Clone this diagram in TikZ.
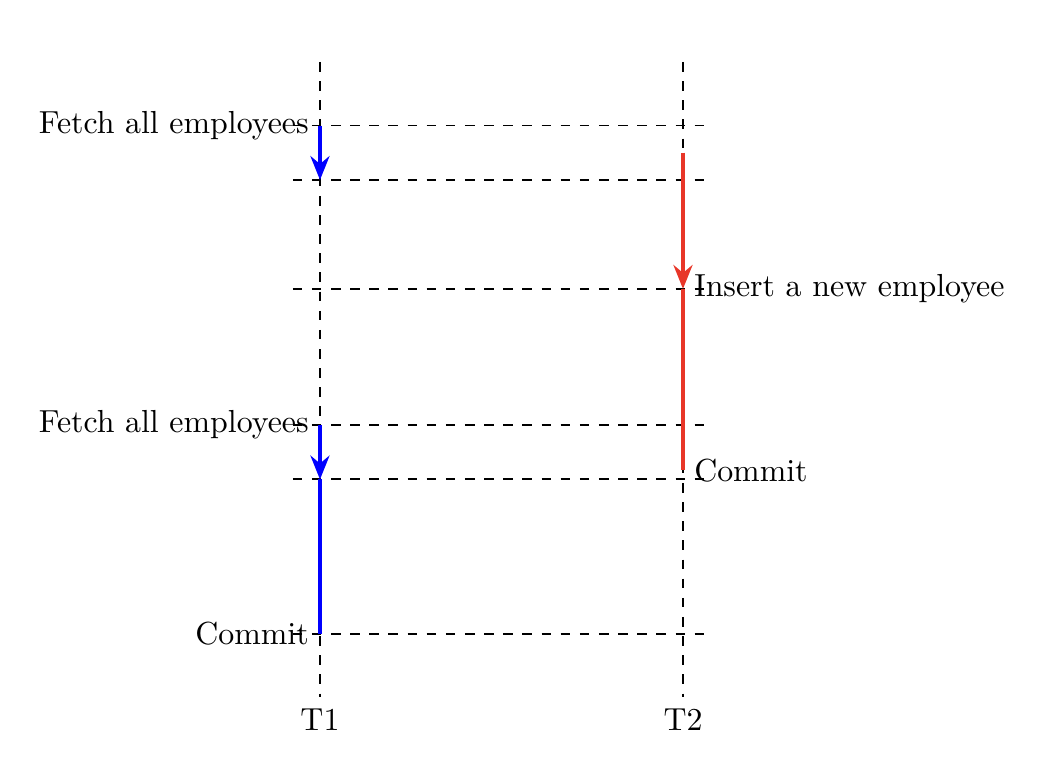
\documentclass[tikz,border=0pt]{standalone}
\usetikzlibrary{arrows.meta}
\definecolor{myred}{RGB}{232,54,40}
\begin{document}
\begin{tikzpicture}[
  grid/.style={dashed, line width=0.6pt},
  blueflow/.style={blue, line width=1pt},
  redflow/.style={myred, line width=1pt},
  tip/.style={-{Stealth[length=7.5pt,width=6pt,inset=2.5pt]}},
  lbl/.style={inner sep=3.33pt}
]
\useasboundingbox (-3.526,-0.937) rectangle (7.978,7.683);
% lifelines
\coordinate (t1top) at (0,7);
\coordinate (t1bot) at (0,0);
\coordinate (t2top) at (4,7);
\coordinate (t2bot) at (4,0);
\draw[grid] (t1top) -- (t1bot);
\draw[grid] (t2top) -- (t2bot);
\node[anchor=north, lbl] (T1) at (t1bot) {T1};
\node[anchor=north, lbl] (T2) at (t2bot) {T2};
% rows
\foreach \n/\y in {r1/6.3, r2/5.7, r3/4.5, r4/3.0, r5/2.4, r6/0.7} {
  \coordinate (\n l) at (-0.3,\y);
  \coordinate (\n r) at (4.28,\y);
  \draw[grid] (\n l) -- (\n r);
}
\coordinate (a1) at (0,6.3);
\coordinate (a2) at (0,5.7);
\coordinate (a4) at (0,3.0);
\coordinate (a5) at (0,2.4);
\coordinate (a6) at (0,0.7);
\coordinate (b0) at (4,6.0);
\coordinate (b3) at (4,4.5);
\coordinate (b4) at (4,2.5);
% labels
\node[anchor=east, lbl] (f1) at (a1) {Fetch all employees};
\node[anchor=east, lbl] (f2) at (a4) {Fetch all employees};
\node[anchor=east, lbl] (c1) at (a6) {Commit};
\node[anchor=west, lbl] (ins) at (b3) {Insert a new employee};
\node[anchor=west, lbl] (c2) at (b4) {Commit};
% flows
\draw[blueflow, tip] (a1) -- (a2);
\draw[blueflow, tip] (a4) -- (a5);
\draw[blueflow] (a5) -- (a6);
\draw[redflow, tip] (b0) -- (b3);
\draw[redflow] (b3) -- (b4);
\end{tikzpicture}
\end{document}
